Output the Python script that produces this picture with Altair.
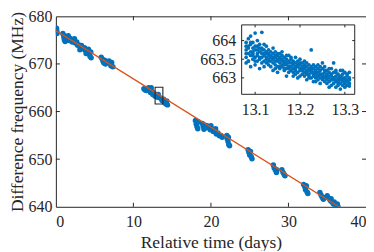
import altair as alt
import pandas as pd

# ---------------- data ----------------
main_day = [
    0.05, 0.08, 0.10, 0.12, 0.15,
    0.90, 1.00, 1.05, 1.10, 1.20, 1.25,
    1.40, 1.60, 1.70, 1.80, 2.00, 2.10, 2.30, 2.40, 2.50, 2.70, 2.80, 3.00, 3.10,
    3.20, 3.30, 3.50, 3.70, 3.80, 3.90, 4.00, 4.10, 4.20, 4.30, 4.40, 4.50, 4.55,
    5.85, 6.00, 6.10, 6.20, 6.30, 6.40,
    6.85, 7.00, 7.10, 7.20, 7.35,
    11.35, 11.50, 11.70,
    11.95, 12.10, 12.20, 12.30, 12.40, 12.50, 12.70, 12.80, 13.00, 13.10,
    13.20, 13.30, 13.50, 13.70, 13.90, 14.00, 14.20, 14.30, 14.40,
    18.00, 18.10, 18.20, 18.30, 18.40,
    18.90, 19.00, 19.10, 19.20, 19.30,
    19.50, 19.70, 19.90, 20.00, 20.10, 20.30, 20.50, 20.60, 20.70, 20.90, 21.10, 21.30, 21.45,
    22.05, 22.10, 22.20, 22.25, 22.30, 22.40,
    24.80, 24.90, 25.00, 25.10, 25.20, 25.30,
    28.05, 28.15, 28.30, 28.45, 28.50,
    29.15, 29.30, 29.45, 29.55,
    31.95, 32.10, 32.20, 32.30, 32.40, 32.50,
    34.05, 34.20, 34.35, 34.50, 34.60,
    35.00, 35.20, 35.40, 35.50, 35.60, 35.80, 35.90, 36.00, 36.20, 36.30, 36.40,
]
main_freq = [
    677.3, 677.5, 677.0, 676.7, 676.4,
    676.4, 676.0, 675.5, 675.0, 674.7, 675.8,
    675.7, 675.9, 674.9, 675.4, 675.2, 674.6, 674.9, 675.3, 674.4, 674.6, 673.9, 674.0, 673.0,
    673.5, 673.9, 673.2, 673.4, 672.8, 672.2, 672.9, 672.4, 673.1, 672.2, 671.6, 672.5, 671.3,
    671.4, 671.0, 670.5, 670.2, 670.8, 670.0,
    670.6, 670.1, 669.6, 670.3, 669.4,
    664.8, 664.5, 664.4,
    665.0, 664.6, 664.0, 665.0, 664.2, 663.6, 663.8, 663.2, 663.5, 663.0,
    663.6, 663.0, 662.8, 662.3, 662.6, 661.9, 661.6, 662.2, 661.4,
    658.1, 657.4, 656.8, 656.4, 657.8,
    657.5, 656.9, 656.3, 657.2, 656.6,
    657.0, 656.6, 656.2, 657.0, 656.4, 655.8, 655.9, 656.4, 655.3, 655.5, 654.9, 655.0, 654.6,
    655.0, 654.3, 653.7, 654.6, 653.1, 652.8,
    652.0, 651.4, 650.9, 651.6, 650.5, 650.1,
    648.8, 648.2, 647.7, 647.2, 647.8,
    647.8, 647.2, 646.8, 646.5,
    644.7, 644.2, 643.6, 644.4, 643.1, 642.8,
    643.0, 642.5, 642.0, 641.6, 641.9,
    642.3, 641.8, 641.3, 641.7, 641.0, 640.6, 641.0, 640.4, 640.2, 640.6, 640.0,
]

fit_day = [0.0, 36.5]
fit_freq = [677.0, 640.0]

box_day = [12.8, 13.8]
box_freq = [661.6, 665.1]

inset_t = [13.080, 13.085, 13.090, 13.095, 13.100, 13.105, 13.110, 13.115, 13.120, 13.125,
           13.130, 13.135, 13.140, 13.145, 13.150, 13.155, 13.160, 13.165, 13.170, 13.175,
           13.180, 13.185, 13.190, 13.195, 13.200, 13.205, 13.210, 13.215, 13.220, 13.225,
           13.230, 13.235, 13.240, 13.245, 13.250, 13.255, 13.260, 13.265, 13.270, 13.275,
           13.280, 13.285, 13.290, 13.295, 13.300, 13.305, 13.310]
inset_f_a = [663.95, 664.05, 663.90, 663.80, 664.20, 663.85, 663.70, 663.80, 663.75, 663.85,
             663.60, 663.70, 663.65, 663.55, 663.60, 663.55, 663.50, 663.40, 663.50, 663.45,
             663.40, 663.35, 663.40, 663.30, 663.35, 663.30, 663.25, 663.30, 663.25, 663.20,
             663.25, 663.20, 663.15, 663.20, 663.10, 663.15, 663.10, 663.05, 663.10, 663.00,
             663.05, 663.00, 663.05, 662.95, 663.00, 662.95, 663.00]
inset_f_b = [663.55, 663.65, 663.60, 663.50, 663.55, 663.60, 663.50, 663.55, 663.45, 663.55,
             663.35, 663.45, 663.40, 663.35, 663.30, 663.40, 663.30, 663.20, 663.25, 663.30,
             663.20, 663.15, 663.10, 663.15, 663.20, 663.10, 663.05, 663.15, 663.05, 663.00,
             663.05, 663.00, 662.95, 663.00, 662.95, 662.90, 662.85, 662.90, 662.95, 662.85,
             662.90, 662.80, 662.85, 662.80, 662.85, 662.80, 662.85]
inset_f_c = [663.75, 663.85, 663.30, 663.70, 663.75, 663.45, 663.90, 663.65, 663.60, 663.40,
             663.75, 663.30, 663.20, 663.70, 663.50, 663.25, 663.45, 663.55, 663.40, 663.15,
             663.50, 663.45, 663.30, 663.45, 663.05, 663.40, 663.35, 662.95, 663.35, 663.30,
             663.15, 663.30, 663.25, 662.85, 663.25, 663.05, 663.20, 663.15, 662.80, 663.15,
             662.75, 663.10, 663.20, 663.10, 663.15, 663.10, 663.15]
inset_f_d = [663.40, 663.45, 664.12, 663.95, 663.35, 664.00, 663.25, 664.22, 663.30, 663.70,
             663.50, 663.55, 663.80, 663.45, 663.15, 663.65, 663.70, 663.35, 663.05, 663.60,
             663.30, 663.25, 663.55, 663.00, 663.50, 663.20, 663.45, 663.20, 663.10, 663.75,
             662.90, 663.10, 663.05, 663.30, 663.40, 663.30, 663.00, 662.75, 663.25, 663.40,
             663.20, 662.95, 662.70, 663.00, 662.75, 662.90, 662.78]
inset_f_e = [663.65, 663.80, 663.70, 663.60, 663.85, 663.65, 663.55, 663.75, 663.65, 663.50,
             663.65, 663.55, 663.50, 663.60, 663.45, 663.50, 663.35, 663.45, 663.35, 663.40,
             663.30, 663.40, 663.25, 663.35, 663.25, 663.20, 663.30, 663.10, 663.20, 663.15,
             663.10, 663.15, 663.05, 663.10, 663.05, 663.00, 663.05, 663.00, 662.95, 663.00,
             662.95, 662.90, 662.95, 662.90, 662.95, 662.90, 662.95]
inset_f_f = [663.85, 663.45, 663.95, 663.65, 663.45, 663.75, 663.80, 663.40, 663.90, 663.65,
             663.45, 663.60, 663.55, 663.25, 663.65, 663.30, 663.60, 663.25, 663.60, 663.25,
             663.55, 663.05, 663.20, 663.35, 663.40, 663.25, 663.15, 663.40, 663.00, 663.25,
             663.35, 662.90, 663.35, 663.10, 663.00, 663.20, 662.95, 663.25, 663.05, 662.95,
             663.15, 662.85, 663.00, 663.20, 662.90, 663.05, 662.95]

main_x_ticks = [0, 10, 20, 30, 40]
main_y_ticks = [640, 650, 660, 670, 680]
main_x_inner = [10, 20, 30]
main_y_inner = [650, 660, 670]
inset_x_ticks = [13.1, 13.2, 13.3]
inset_y_ticks = [663, 663.5, 664]
inset_x_domain = [13.07, 13.322]
inset_y_domain = [662.56, 664.42]

# ---------------- layout / style ----------------
W, H = 311, 191
IX0, IX1 = 186.3, 299.7      # inset placement inside the plot (px)
IY0, IY1 = 78.2, 8.6         # inset bottom, top (px)
TK = 4                       # main tick length
ITK = 2.5                    # inset tick length
BLUE = "#0072BD"
ORANGE = "#D95319"
INK = "#262626"
FONT = "Liberation Serif"

main_df = pd.DataFrame({"day": main_day, "freq": main_freq})
fit_df = pd.DataFrame({"day": fit_day, "freq": fit_freq})
box_df = pd.DataFrame({"x0": [box_day[0]], "x1": [box_day[1]],
                       "y0": [box_freq[0]], "y1": [box_freq[1]]})
inset_df = pd.DataFrame({"t": inset_t * 6,
                         "f": inset_f_a + inset_f_b + inset_f_c + inset_f_d
                         + inset_f_e + inset_f_f})
frame_df = pd.DataFrame({"x0": [inset_x_domain[0]], "x1": [inset_x_domain[1]],
                         "y0": [inset_y_domain[0]], "y1": [inset_y_domain[1]]})
mxt = pd.DataFrame({"tick": main_x_inner})
myt = pd.DataFrame({"tick": main_y_inner})
ixt = pd.DataFrame({"tick": inset_x_ticks})
iyt = pd.DataFrame({"tick": inset_y_ticks})


def xs():
    return alt.Scale(domain=[0, 40], nice=False, zero=False)


def ys():
    return alt.Scale(domain=[640, 680], nice=False, zero=False)


def ixs():
    return alt.Scale(domain=inset_x_domain, range=[IX0, IX1], nice=False, zero=False)


def iys():
    return alt.Scale(domain=inset_y_domain, range=[IY0, IY1], nice=False, zero=False)


lab = dict(labelFont=FONT, labelFontSize=16, labelColor=INK, ticks=False, tickSize=0,
           domain=False, grid=False)
ttl = dict(titleFont=FONT, titleFontSize=17.5, titleColor=INK, titleFontWeight="normal")
x_axis = alt.Axis(orient="bottom", values=main_x_ticks, format="d", labelPadding=7,
                  title="Relative time (days)", titlePadding=4, **ttl, **lab)
y_axis = alt.Axis(orient="left", values=main_y_ticks, format="d", labelPadding=4,
                  title="Difference frequency (MHz)", titlePadding=1, **ttl, **lab)
ix_axis = alt.Axis(orient="bottom", offset=-(H - IY0), values=inset_x_ticks, format=".1f",
                   labelPadding=7, title=None, **lab)
iy_axis = alt.Axis(orient="left", offset=-IX0, values=inset_y_ticks, format="~g",
                   labelPadding=6, title=None, **lab)

# ---------------- main plot ----------------
pts = alt.Chart(main_df).mark_circle(size=30, color=BLUE, opacity=1, clip=True).encode(
    x=alt.X("day:Q", scale=xs(), axis=x_axis),
    y=alt.Y("freq:Q", scale=ys(), axis=y_axis),
)
fit = alt.Chart(fit_df).mark_line(color=ORANGE, strokeWidth=1.3, clip=True).encode(
    x=alt.X("day:Q", scale=xs(), axis=None), y=alt.Y("freq:Q", scale=ys(), axis=None),
)
box = alt.Chart(box_df).mark_rect(fill="transparent", stroke=INK, strokeWidth=1.1).encode(
    x=alt.X("x0:Q", scale=xs(), axis=None), x2="x1:Q",
    y=alt.Y("y0:Q", scale=ys(), axis=None), y2="y1:Q",
)
tb = alt.Chart(mxt).mark_rule(color=INK).encode(
    x=alt.X("tick:Q", scale=xs(), axis=None), y=alt.value(H), y2=alt.value(H - TK))
tt = alt.Chart(mxt).mark_rule(color=INK).encode(
    x=alt.X("tick:Q", scale=xs(), axis=None), y=alt.value(0), y2=alt.value(TK))
tl = alt.Chart(myt).mark_rule(color=INK).encode(
    y=alt.Y("tick:Q", scale=ys(), axis=None), x=alt.value(0), x2=alt.value(TK))
tr = alt.Chart(myt).mark_rule(color=INK).encode(
    y=alt.Y("tick:Q", scale=ys(), axis=None), x=alt.value(W), x2=alt.value(W - TK))

# ---------------- inset ----------------
frame = alt.Chart(frame_df).mark_rect(fill="white", stroke=INK, strokeWidth=1).encode(
    x=alt.X("x0:Q", scale=ixs(), axis=ix_axis), x2="x1:Q",
    y=alt.Y("y0:Q", scale=iys(), axis=iy_axis), y2="y1:Q",
)
ipts = alt.Chart(inset_df).mark_circle(size=14, color=BLUE, opacity=1).encode(
    x=alt.X("t:Q", scale=ixs(), axis=None), y=alt.Y("f:Q", scale=iys(), axis=None),
)
itb = alt.Chart(ixt).mark_rule(color=INK).encode(
    x=alt.X("tick:Q", scale=ixs(), axis=None), y=alt.value(IY0), y2=alt.value(IY0 - ITK))
itt = alt.Chart(ixt).mark_rule(color=INK).encode(
    x=alt.X("tick:Q", scale=ixs(), axis=None), y=alt.value(IY1), y2=alt.value(IY1 + ITK))
itl = alt.Chart(iyt).mark_rule(color=INK).encode(
    y=alt.Y("tick:Q", scale=iys(), axis=None), x=alt.value(IX0), x2=alt.value(IX0 + ITK))
itr = alt.Chart(iyt).mark_rule(color=INK).encode(
    y=alt.Y("tick:Q", scale=iys(), axis=None), x=alt.value(IX1), x2=alt.value(IX1 - ITK))

chart = (
    alt.layer(pts, fit, box, tb, tt, tl, tr, frame, ipts, itb, itt, itl, itr)
    .resolve_scale(x="independent", y="independent")
    .resolve_axis(x="independent", y="independent")
    .properties(width=W, height=H,
                padding={"left": 48, "top": 8, "right": 0, "bottom": 44},
                autosize=alt.AutoSizeParams(type="none"))
    .configure_view(stroke=INK, strokeWidth=1)
    .configure_axis(labelFont=FONT, labelFontSize=16, labelColor=INK,
                    titleFont=FONT, titleFontSize=17.5, titleColor=INK,
                    titleFontWeight="normal")
)

chart.save("out.html", embed_options={"renderer": "svg", "actions": False})
